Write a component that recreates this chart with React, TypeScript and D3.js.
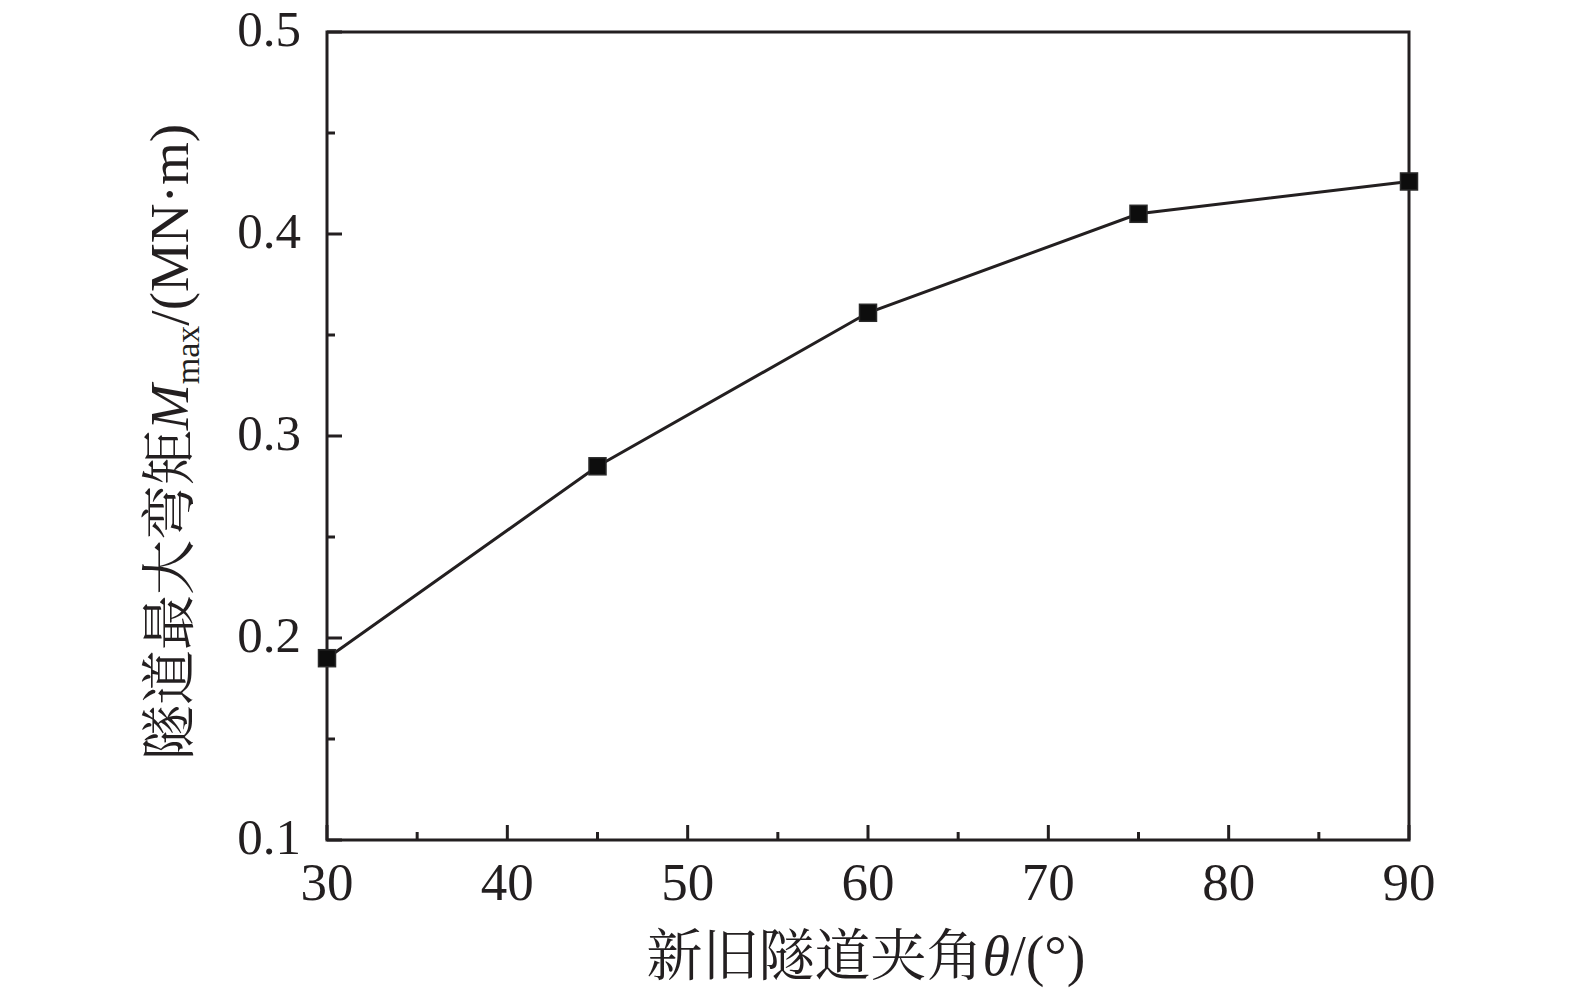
import React, { useEffect, useRef } from 'react';
import * as d3 from 'd3';

// angle between new and old tunnel (deg) vs. max bending moment (MN·m)
const angles = [30, 45, 60, 75, 90];
const moments = [0.19, 0.285, 0.361, 0.41, 0.426];

const xTicks = [30, 40, 50, 60, 70, 80, 90];
const xMinorTicks = [35, 45, 55, 65, 75, 85];
const yTicks = [0.1, 0.2, 0.3, 0.4, 0.5];
const yMinorTicks = [0.15, 0.25, 0.35, 0.45];

const width = 1575;
const height = 994;
const margin = { top: 32, right: 166, bottom: 154, left: 327 };
const ink = '#231f20';
const serif = '"Liberation Serif", "Times New Roman", "Noto Serif CJK SC", "Noto Sans CJK SC", serif';

const App: React.FC = () => {
    const svgRef = useRef<SVGSVGElement | null>(null);

    useEffect(() => {
        const svg = d3.select(svgRef.current);
        svg.selectAll('*').remove();

        const innerWidth = width - margin.left - margin.right;
        const innerHeight = height - margin.top - margin.bottom;

        const xScale = d3.scaleLinear().domain([30, 90]).range([margin.left, margin.left + innerWidth]);
        const yScale = d3.scaleLinear().domain([0.1, 0.5]).range([margin.top + innerHeight, margin.top]);

        const x0 = margin.left;
        const x1 = margin.left + innerWidth;
        const y0 = margin.top + innerHeight;
        const y1 = margin.top;

        // frame
        svg.append('rect')
            .attr('x', x0)
            .attr('y', y1)
            .attr('width', innerWidth)
            .attr('height', innerHeight)
            .attr('fill', 'none')
            .attr('stroke', ink)
            .attr('stroke-width', 3);

        // ticks, pointing inward
        const tickG = svg.append('g').attr('stroke', ink).attr('stroke-width', 3);
        xTicks.forEach(t => {
            tickG.append('line').attr('x1', xScale(t)).attr('x2', xScale(t)).attr('y1', y0).attr('y2', y0 - 15);
        });
        xMinorTicks.forEach(t => {
            tickG.append('line').attr('x1', xScale(t)).attr('x2', xScale(t)).attr('y1', y0).attr('y2', y0 - 8);
        });
        yTicks.forEach(t => {
            tickG.append('line').attr('x1', x0).attr('x2', x0 + 15).attr('y1', yScale(t)).attr('y2', yScale(t));
        });
        yMinorTicks.forEach(t => {
            tickG.append('line').attr('x1', x0).attr('x2', x0 + 8).attr('y1', yScale(t)).attr('y2', yScale(t));
        });

        // tick labels
        svg.append('g')
            .selectAll('text')
            .data(xTicks)
            .join('text')
            .attr('x', d => xScale(d))
            .attr('y', y0 + 60)
            .attr('text-anchor', 'middle')
            .attr('font-family', serif)
            .attr('font-size', 53)
            .attr('fill', ink)
            .text(d => d);

        svg.append('g')
            .selectAll('text')
            .data(yTicks)
            .join('text')
            .attr('x', x0 - 26)
            .attr('y', d => yScale(d) + 14)
            .attr('text-anchor', 'end')
            .attr('font-family', serif)
            .attr('font-size', 51)
            .attr('fill', ink)
            .text(d => d.toFixed(1));

        // data line
        const line = d3.line<number>()
            .x((_, i) => xScale(angles[i]))
            .y(d => yScale(d));

        svg.append('path')
            .datum(moments)
            .attr('d', line)
            .attr('fill', 'none')
            .attr('stroke', ink)
            .attr('stroke-width', 3);

        const size = 17;
        svg.append('g')
            .selectAll('rect')
            .data(moments)
            .join('rect')
            .attr('x', (_, i) => xScale(angles[i]) - size / 2)
            .attr('y', d => yScale(d) - size / 2)
            .attr('width', size)
            .attr('height', size)
            .attr('fill', '#0d0d0d')
            .attr('stroke', '#2a2a2a')
            .attr('stroke-width', 1.5);

        // x axis title
        const xt = svg.append('text')
            .attr('x', (x0 + x1) / 2 - 2)
            .attr('y', 975)
            .attr('text-anchor', 'middle')
            .attr('font-family', serif)
            .attr('font-size', 56)
            .attr('fill', ink);
        xt.append('tspan').text('新旧隧道夹角');
        xt.append('tspan').attr('font-style', 'italic').text('θ');
        xt.append('tspan').text('/(°)');

        // y axis title
        const yt = svg.append('text')
            .attr('transform', `translate(188, ${(y0 + y1) / 2 + 6}) rotate(-90)`)
            .attr('text-anchor', 'middle')
            .attr('font-family', serif)
            .attr('font-size', 55)
            .attr('fill', ink);
        yt.append('tspan').text('隧道最大弯矩');
        yt.append('tspan').attr('font-style', 'italic').text('M');
        yt.append('tspan').attr('font-size', 34).attr('dy', 11).text('max');
        yt.append('tspan').attr('dy', -11).text('/(MN·m)');
    }, []);

    return (
        <svg
            ref={svgRef}
            width={width}
            height={height}
            style={{ position: 'absolute', left: 0, top: 0, background: '#fff' }}
        />
    );
};

export default App;
